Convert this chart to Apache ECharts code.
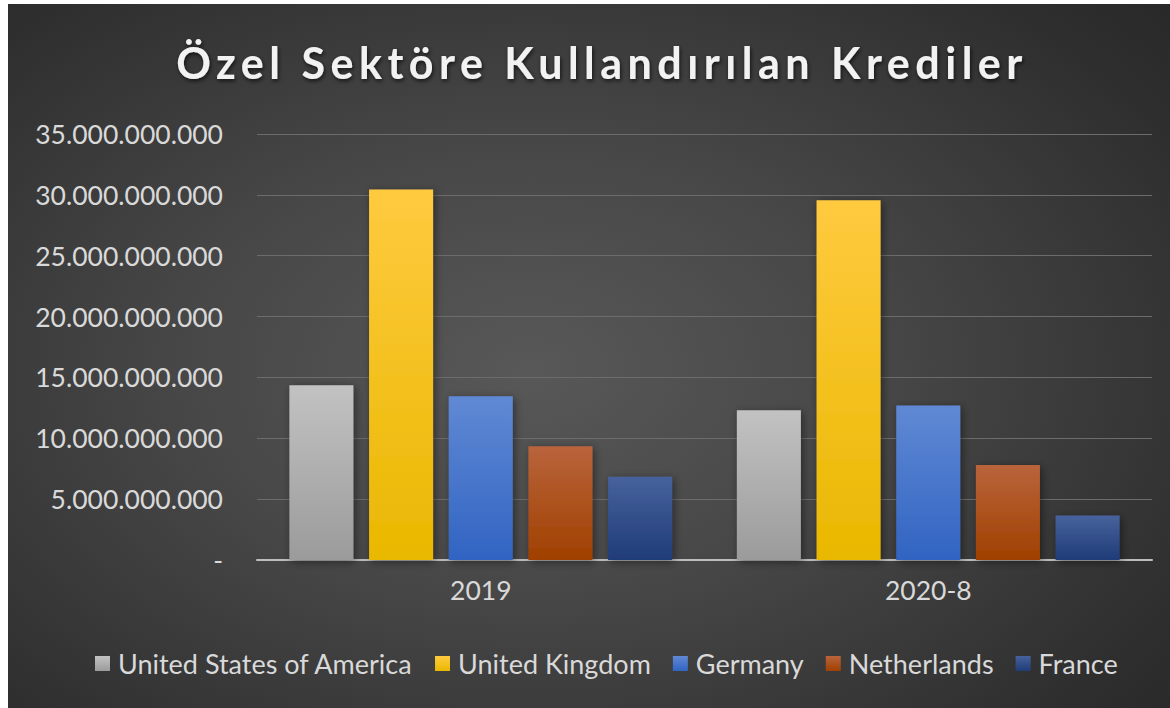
<!DOCTYPE html>
<html>
<head>
<meta charset="utf-8">
<script src="https://cdn.jsdelivr.net/npm/echarts@6/dist/echarts.min.js"></script>
<style>
  html, body { margin: 0; padding: 0; background: #ffffff; }
  #bg { position: absolute; left: 8px; top: 4px; width: 1162px; height: 704px;
        background: radial-gradient(ellipse 75% 80% at 45% 52%, #585858 0%, #474747 40%, #2e2e2e 85%, #282828 100%); }
  #chart { position: absolute; left: 0; top: 0; width: 1170px; height: 708px; }
  #chart svg text[style*="TitleFace"] { letter-spacing: 5.5px; }
</style>
</head>
<body>
<div id="bg"></div>
<div id="chart"></div>
<script>
const categories = ['2019', '2020-8'];
const seriesNames = ['United States of America', 'United Kingdom', 'Germany', 'Netherlands', 'France'];
const usaValues = [14.35e9, 12.30e9];
const ukValues = [30.45e9, 29.55e9];
const germanyValues = [13.45e9, 12.70e9];
const netherlandsValues = [9.35e9, 7.80e9];
const franceValues = [6.85e9, 3.65e9];
const yTicks = [0, 5e9, 10e9, 15e9, 20e9, 25e9, 30e9, 35e9];

const valueSets = [usaValues, ukValues, germanyValues, netherlandsValues, franceValues];
const gradients = [
  ['#c2c2c2', '#9b9b9b'],
  ['#ffca3f', '#e9b800'],
  ['#6089d4', '#3164c2'],
  ['#b9643c', '#a04000'],
  ['#47629c', '#1f3c78']
];

function fmt(v) {
  if (v === 0) return '-';
  return Math.round(v).toString().replace(/\B(?=(\d{3})+(?!\d))/g, '.');
}

const chart = echarts.init(document.getElementById('chart'), null, { renderer: 'svg' });
const labelColor = '#d9d9d9';
const font = 'Lato';

chart.setOption({
  backgroundColor: 'transparent',
  animation: false,
  title: {
    text: 'Özel Sektöre Kullandırılan Krediler',
    left: 597, top: 36, textAlign: 'center',
    textStyle: {
      color: '#f2f2f2', fontSize: 43, fontWeight: 'bold', fontFamily: 'Lato, TitleFace',
      textShadowColor: 'rgba(0,0,0,0.7)', textShadowBlur: 4, textShadowOffsetX: 1, textShadowOffsetY: 2
    }
  },
  legend: {
    data: seriesNames,
    left: 90, top: 645,
    itemWidth: 15, itemHeight: 15, itemGap: 22,
    icon: 'rect',
    textStyle: { color: labelColor, fontSize: 27, fontFamily: font, padding: [0, 0, 0, 3] }
  },
  grid: { left: 257, right: 18, top: 134, bottom: 148, containLabel: false },
  xAxis: {
    type: 'category',
    data: categories,
    axisLine: { show: true, lineStyle: { color: '#bdbdbd', width: 2 } },
    axisTick: { show: false },
    axisLabel: { color: labelColor, fontSize: 26.5, fontFamily: font, margin: 16 }
  },
  yAxis: {
    type: 'value',
    min: 0, max: 35e9, interval: 5e9,
    axisLine: { show: false },
    axisTick: { show: false },
    splitLine: { show: true, lineStyle: { color: '#6c6c6c', width: 1 } },
    axisLabel: { color: labelColor, fontSize: 26.5, fontFamily: font, margin: 34,
      formatter: function (v) { return yTicks.indexOf(v) >= 0 ? fmt(v) : ''; } }
  },
  series: seriesNames.map(function (name, i) {
    return {
      name: name,
      type: 'bar',
      data: valueSets[i],
      barWidth: 64,
      barGap: '24.5%',
      itemStyle: {
        color: new echarts.graphic.LinearGradient(0, 0, 0, 1, [
          { offset: 0, color: gradients[i][0] },
          { offset: 1, color: gradients[i][1] }
        ]),
        shadowColor: 'rgba(0,0,0,0.45)', shadowBlur: 8, shadowOffsetX: 2, shadowOffsetY: 2
      }
    };
  })
});
</script>
</body>
</html>
